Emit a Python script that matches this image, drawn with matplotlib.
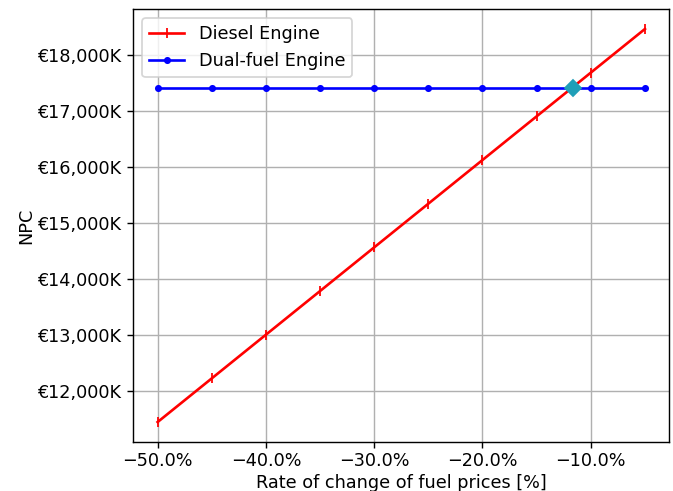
import matplotlib
matplotlib.use("Agg")
import matplotlib.pyplot as plt
from matplotlib.ticker import FuncFormatter

rate_change = [-50, -45, -40, -35, -30, -25, -20, -15, -10, -5]
diesel_npc = [11455, 12234, 13013, 13792, 14571, 15350, 16129, 16908, 17687, 18466]
dual_fuel_npc = [17420] * 10
intersection = (-11.65, 17420)
x_ticks = [-50, -40, -30, -20, -10]
y_ticks = [12000, 13000, 14000, 15000, 16000, 17000, 18000]

fig = plt.figure(figsize=(673 / 127, 491 / 127), dpi=127)
ax = fig.add_axes([0.198, 0.1004, 0.7965, 0.8806])

ax.plot(rate_change, diesel_npc, color='red', marker='|', label='Diesel Engine')
ax.plot(rate_change, dual_fuel_npc, color='blue', marker='.', label='Dual-fuel Engine')
ax.plot([intersection[0]], [intersection[1]], marker='D', color='#1f9fb8', markersize=6.5)

ax.set_xticks(x_ticks)
ax.set_yticks(y_ticks)
ax.tick_params(axis='x', pad=2.5)
ax.xaxis.set_major_formatter(FuncFormatter(lambda v, p: f"{v:.1f}%".replace('-', '\u2212')))
ax.yaxis.set_major_formatter(FuncFormatter(lambda v, p: f"€{v:,.0f}K"))
ax.set_xlabel('Rate of change of fuel prices [%]', labelpad=2)
ax.set_ylabel('NPC', labelpad=1)
ax.grid(True)
ax.legend(loc='upper left')

fig.savefig('out.png', dpi=127)
